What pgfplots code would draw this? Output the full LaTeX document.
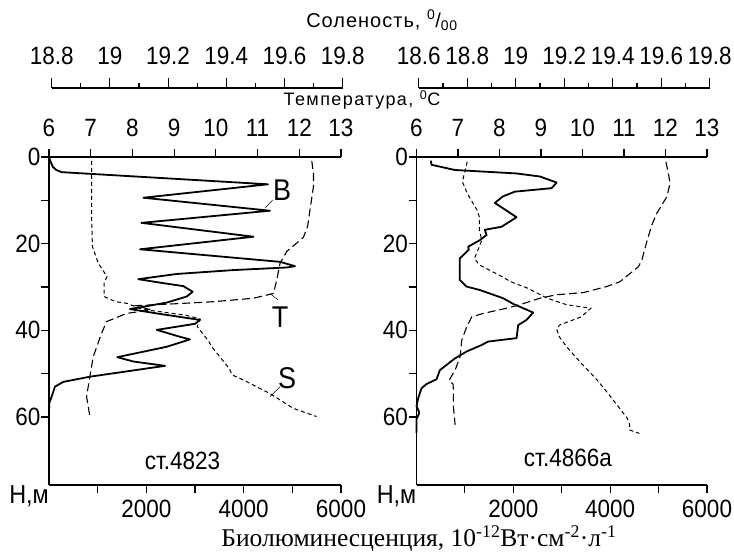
\documentclass[border=0pt]{standalone}
\usepackage{fontspec}
\setmainfont{Liberation Sans}
\newfontfamily\tickfont{Liberation Sans}[FakeStretch=0.9]
\newfontfamily\seriffont{Liberation Serif}
\usepackage{pgfplots}
\usepackage{pgfplotstable}
\pgfplotsset{compat=1.18}

\pgfplotstableread{
bio d
0 0
30 1.0
80 2.3
150 3.0
260 3.5
4500 6.3
1940 9.4
4540 12.4
1900 15.2
4200 18.4
1870 21.3
4750 24.2
5055 25.2
4885 25.5
3785 26.1
2623 27.0
1835 28.2
2281 29.0
2760 29.8
2953 31.1
2830 32.2
2419 33.6
1665 35.1
2213 36.1
3103 37.6
3000 38.5
2213 39.9
2692 41.5
2897 42.1
2418 43.8
1404 46.2
1733 47.2
2384 48.2
843 50.7
295 51.9
123 53.0
55 55.3
6 56.8
0 58.8
}\leftB

\pgfplotstableread{
t d
12.30 0.9
12.34 4.0
12.34 6.8
12.26 12.0
12.20 16.0
12.10 18.5
12.02 19.2
11.70 21.8
11.54 24.5
11.46 28.4
11.38 31.5
10.90 32.6
9.94 33.4
8.98 33.9
8.10 34.3
8.45 35.3
7.86 36.1
7.38 38.0
7.26 40.7
7.06 46.1
6.98 50.7
6.90 55.3
6.98 59.9
}\leftT

\pgfplotstableread{
s d
18.937 0.9
18.937 13.8
18.94 20.7
18.96 24.5
18.99 27.6
18.98 29.1
18.98 32.2
19.02 33.4
19.06 33.8
19.10 34.9
19.15 35.5
19.26 36.5
19.31 37.4
19.30 39.1
19.34 42.6
19.35 43.8
19.41 48.8
19.42 50.3
19.46 51.5
19.55 54.6
19.63 58.0
19.71 59.9
}\leftS

\pgfplotstableread{
bio d
296 0.85
310 1.8
792 3.0
2067 3.8
2549 4.5
2894 5.9
2790 7.2
2032 8.0
1784 9.1
1618 10.6
2067 13.9
1757 16.1
1412 16.8
1447 18.0
1308 19.2
1067 20.7
1080 21.4
895 23.4
895 28.4
1033 29.9
1308 30.7
1790 32.6
1997 33.9
2410 35.9
2273 37.6
2100 38.8
2067 41.8
1480 42.6
1343 43.4
1033 44.9
792 46.5
482 49.2
413 51.3
207 52.4
103 53.4
34 55.7
0 57.5
60 59.0
0 60.5
0 63.7
}\rightB

\pgfplotstableread{
t d
12.01 1.1
12.07 3.8
12.11 6.1
12.03 9.2
11.79 13.0
11.67 15.7
11.55 19.5
11.43 23.8
11.35 25.3
10.90 28.8
10.58 29.9
10.02 31.3
9.37 31.8
8.97 32.6
8.49 34.1
8.17 34.9
7.61 36.1
7.33 36.9
7.21 39.2
7.09 42.3
7.05 46.1
6.93 49.2
6.78 51.6
6.88 52.4
6.89 53.8
6.89 57.7
6.93 61.8
}\rightT

\pgfplotstableread{
s d
18.80 1.1
18.79 3.4
18.78 5.7
18.80 8.4
18.84 12.2
18.85 13.8
18.85 16.8
18.86 19.2
18.85 20.7
18.83 23.4
18.85 24.9
18.94 27.5
18.98 28.8
19.05 30.3
19.13 32.6
19.21 34.1
19.31 34.9
19.27 36.9
19.18 38.8
19.17 39.9
19.18 41.5
19.21 43.8
19.27 47.6
19.33 51.1
19.38 54.5
19.46 60.3
19.47 61.8
19.47 63.0
19.51 63.8
}\rightS

\tikzset{lab/.style={font=\tickfont\fontsize{30}{32}\selectfont, inner sep=0pt}}

\pgfplotsset{
  base/.style={scale only axis, height=328pt, ymin=0, ymax=75.7, y dir=reverse,
    anchor=south west, clip=false,
    /pgf/number format/assume math mode=true,
    tick label style={font=\tickfont\fontsize{25}{28}\selectfont},
    axis line style={line width=1.3pt},
    tick style={line width=1.1pt, black},
    major tick length=8pt, tick align=outside},
  bioaxis/.style={base, axis x line*=bottom, axis y line*=left,
    xmin=0, xmax=6000,
    xtick={1000,2000,3000,4000,5000,6000}, xticklabels={,2000,,4000,,6000},
    xticklabel style={yshift=-4pt},
    ytick={0,10,20,30,40,50,60}, yticklabels={0,,20,,40,,60},
    yticklabel style={xshift=3pt},
    scaled x ticks=false},
  tempaxis/.style={base, axis x line*=top, axis y line=none,
    xmin=6, xmax=13, xtick={6,7,8,9,10,11,12,13},
    xticklabels={6,7,8,9,10,11,12,13},
    xticklabel style={yshift=9pt}},
  salplot/.style={base, hide axis},
  salscale/.style={scale only axis, height=10pt, ymin=0, ymax=1,
    anchor=north west, axis x line*=top, axis y line=none,
    tick label style={font=\tickfont\fontsize{25}{28}\selectfont},
    xticklabel style={yshift=10pt},
    axis line style={line width=1.3pt},
    tick style={line width=1.1pt, black},
    major tick length=10pt, minor tick length=5pt, tick align=outside},
  Bline/.style={black, line width=1.8pt, line join=round},
  Tline/.style={black, line width=1.1pt, dash pattern=on 8pt off 4pt},
  Sline/.style={black, line width=1.0pt, dash pattern=on 4pt off 3pt},
}

\begin{document}
\begin{tikzpicture}
\useasboundingbox (0pt,0pt) rectangle (734pt,553pt);

% ---------------- left panel ----------------
\begin{axis}[bioaxis, at={(49pt,68pt)}, width=292pt]
\addplot[Bline] table[x=bio,y=d]{\leftB};
\node[lab] at (axis cs:4788,7.6) {B};
\draw[line width=0.5pt] (axis cs:4597,9.9) -- (axis cs:4439,11.8);
\node[lab] at (axis cs:4747,36.9) {T};
\draw[line width=0.5pt] (axis cs:4542,31.5) -- (axis cs:4706,33.0);
\node[lab] at (axis cs:4891,51.0) {S};
\draw[line width=0.5pt] (axis cs:4747,53.0) -- (axis cs:4542,55.3);
\node[font=\tickfont\fontsize{25}{28}\selectfont] at (axis cs:2743,70.2) {ст.4823};
\node[font=\tickfont\fontsize{26}{28}\selectfont, anchor=east, inner sep=0pt] at ([yshift=-11pt]rel axis cs:0,0) {Н,м};
\end{axis}
\begin{axis}[tempaxis, at={(49pt,68pt)}, width=292pt]
\addplot[Tline] table[x=t,y=d]{\leftT};
\end{axis}
\begin{axis}[salplot, at={(51.7pt,68pt)}, width=291pt, xmin=18.8, xmax=19.8]
\addplot[Sline] table[x=s,y=d]{\leftS};
\end{axis}
\begin{axis}[salscale, at={(51.7pt,465pt)}, width=291pt, xmin=18.8, xmax=19.8,
  xtick={18.8,19.0,19.2,19.4,19.6,19.8}, xticklabels={18.8,19,19.2,19.4,19.6,19.8},
  minor xtick={18.9,19.1,19.3,19.5,19.7}]
\addplot[draw=none] coordinates {(19.0,0.5)};
\end{axis}

% ---------------- right panel ----------------
\begin{axis}[bioaxis, at={(416.5pt,68pt)}, width=290.5pt]
\addplot[Bline] table[x=bio,y=d]{\rightB};
\node[font=\tickfont\fontsize{25}{28}\selectfont] at (axis cs:3127,69.4) {ст.4866а};
\node[font=\tickfont\fontsize{26}{28}\selectfont, anchor=east, inner sep=0pt] at ([yshift=-11pt]rel axis cs:0,0) {Н,м};
\end{axis}
\begin{axis}[tempaxis, at={(416.5pt,68pt)}, width=290.5pt]
\addplot[Tline] table[x=t,y=d]{\rightT};
\end{axis}
\begin{axis}[salplot, at={(418.7pt,68pt)}, width=291pt, xmin=18.6, xmax=19.8]
\addplot[Sline] table[x=s,y=d]{\rightS};
\end{axis}
\begin{axis}[salscale, at={(418.7pt,465pt)}, width=291pt, xmin=18.6, xmax=19.8,
  xtick={18.6,18.8,19.0,19.2,19.4,19.6,19.8}, xticklabels={18.6,18.8,19,19.2,19.4,19.6,19.8},
  minor xtick={18.7,18.9,19.1,19.3,19.5,19.7}]
\addplot[draw=none] coordinates {(19.0,0.5)};
\end{axis}

% ---------------- titles ----------------
\node[font=\fontsize{20}{22}\selectfont\addfontfeature{LetterSpace=5}, inner sep=0pt] at (382pt,533pt)
  {Соленость, \textsuperscript{0}/\textsubscript{00}};
\node[font=\fontsize{18}{20}\selectfont\addfontfeature{LetterSpace=8}, inner sep=0pt] at (362pt,453pt)
  {Температура, \textsuperscript{0}C};
\node[font=\seriffont\fontsize{25.5}{27}\selectfont, inner sep=0pt] at (419pt,14pt)
  {Биолюминесценция, 10\textsuperscript{-12}Вт·см\textsuperscript{-2}·л\textsuperscript{-1}};
\end{tikzpicture}
\end{document}
